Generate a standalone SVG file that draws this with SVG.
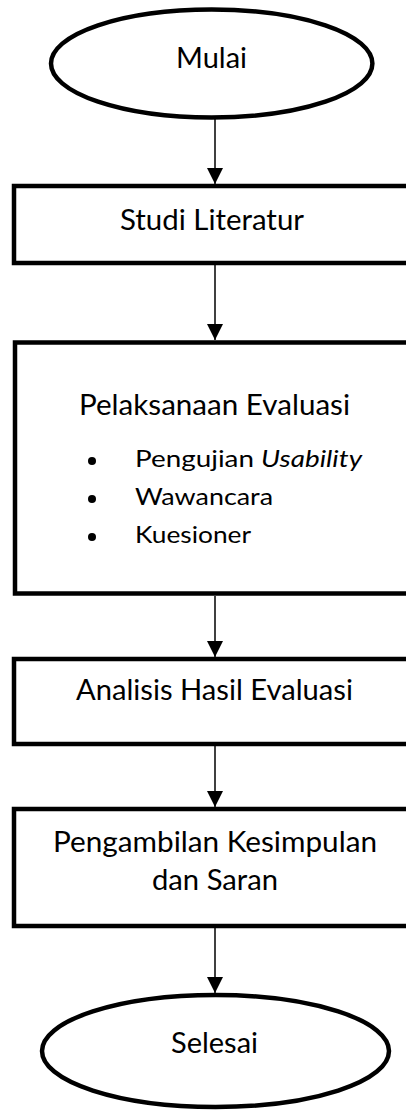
<svg xmlns="http://www.w3.org/2000/svg" width="406" height="1110" viewBox="0 0 406 1110">
  <style>
    .shape { fill: #ffffff; stroke: #000000; stroke-width: 4.5; }
    .lbl { font-family: Lato, "Open Sans", sans-serif; font-size: 28px; fill: #000000; text-anchor: middle; }
    .item { font-family: Lato, "Open Sans", sans-serif; font-size: 24px; fill: #000000; }
    .conn { stroke: #000000; stroke-width: 1.5; fill: none; marker-end: url(#arrow); }
  </style>
  <defs>
    <marker id="arrow" markerUnits="userSpaceOnUse" markerWidth="16" markerHeight="16" refX="16" refY="8" orient="auto">
      <path d="M0,0 L16,8 L0,16 Z" fill="#000000"/>
    </marker>
  </defs>
  <rect width="406" height="1110" fill="#ffffff"/>

  <g id="connectors">
    <line class="conn" x1="215" y1="119" x2="215" y2="184"/>
    <line class="conn" x1="215" y1="265" x2="215" y2="340"/>
    <line class="conn" x1="215" y1="596" x2="215" y2="657"/>
    <line class="conn" x1="215" y1="746" x2="215" y2="807"/>
    <line class="conn" x1="215" y1="928" x2="215" y2="993"/>
  </g>

  <g id="mulai">
    <ellipse class="shape" cx="211.7" cy="63.5" rx="160.7" ry="54"/>
    <text class="lbl" x="211.5" y="68" textLength="71" lengthAdjust="spacingAndGlyphs">Mulai</text>
  </g>

  <g id="studi-literatur">
    <rect class="shape" x="14" y="186" width="404" height="77"/>
    <text class="lbl" x="212" y="230" textLength="184" lengthAdjust="spacingAndGlyphs">Studi Literatur</text>
  </g>

  <g id="pelaksanaan-evaluasi">
    <rect class="shape" x="15" y="342.5" width="403" height="251"/>
    <text class="lbl" x="214.5" y="415" textLength="271" lengthAdjust="spacingAndGlyphs">Pelaksanaan Evaluasi</text>
    <circle cx="92" cy="461" r="4"/>
    <circle cx="92" cy="499" r="4"/>
    <circle cx="92" cy="537" r="4"/>
    <text class="item" x="135" y="467" textLength="227" lengthAdjust="spacingAndGlyphs">Pengujian <tspan font-style="italic">Usability</tspan></text>
    <text class="item" x="135" y="505" textLength="138" lengthAdjust="spacingAndGlyphs">Wawancara</text>
    <text class="item" x="135" y="543" textLength="116" lengthAdjust="spacingAndGlyphs">Kuesioner</text>
  </g>

  <g id="analisis-hasil-evaluasi">
    <rect class="shape" x="14" y="659" width="404" height="85"/>
    <text class="lbl" x="214.5" y="700" textLength="277" lengthAdjust="spacingAndGlyphs">Analisis Hasil Evaluasi</text>
  </g>

  <g id="pengambilan-kesimpulan">
    <rect class="shape" x="14" y="809" width="404" height="117"/>
    <text class="lbl" x="215" y="852" textLength="324" lengthAdjust="spacingAndGlyphs">Pengambilan Kesimpulan</text>
    <text class="lbl" x="215" y="890" textLength="126" lengthAdjust="spacingAndGlyphs">dan Saran</text>
  </g>

  <g id="selesai">
    <ellipse class="shape" cx="215.5" cy="1051" rx="173.5" ry="56"/>
    <text class="lbl" x="214.5" y="1053" textLength="87" lengthAdjust="spacingAndGlyphs">Selesai</text>
  </g>
</svg>
